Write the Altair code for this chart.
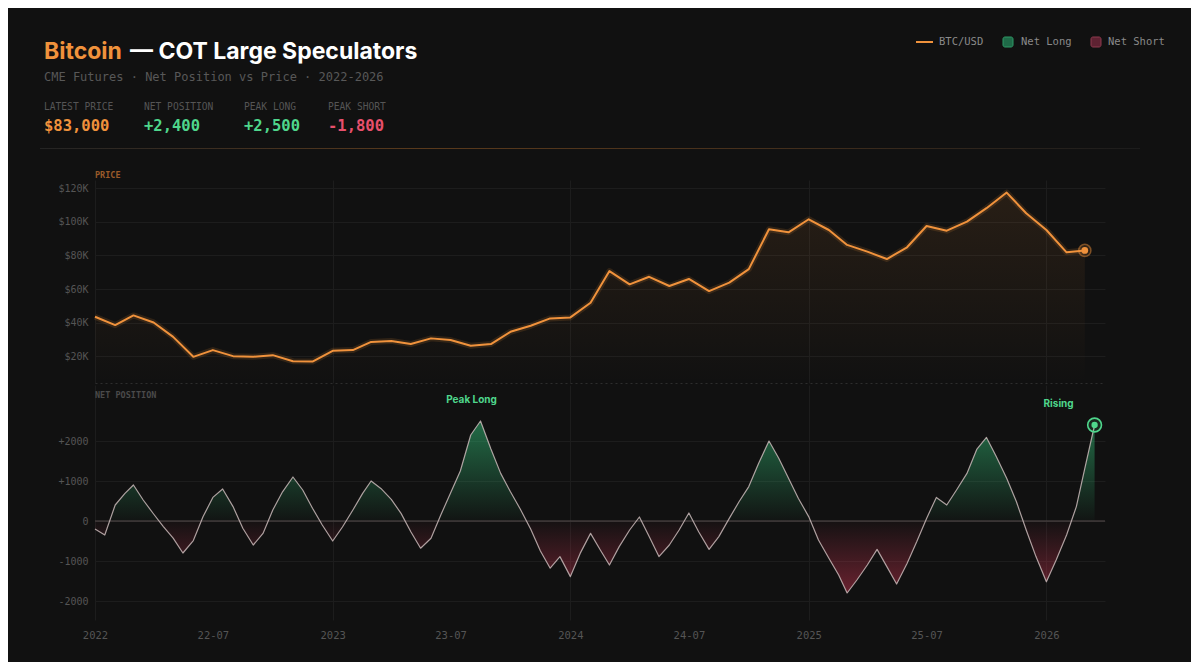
import altair as alt
import pandas as pd

# ---------------- data ----------------
price = [43500, 38500, 44300, 40100, 31500, 19600, 23600, 20000, 19600, 20600, 17000, 16800,
         23200, 23600, 28500, 29100, 27200, 30600, 29600, 26200, 27200, 34500, 38100, 42500,
         43100, 51800, 70700, 62800, 67300, 61800, 66000, 58800, 63800, 71900, 95600, 93800,
         101600, 95200, 86300, 82300, 77900, 84900, 97600, 94800, 100200, 108200, 117500, 105200,
         95200, 81900, 83000]
price_dates = [f"{2022 + i // 12}-{i % 12 + 1:02d}-01" for i in range(len(price))]

net = [-200, -350, 400, 690, 900, 525, 175, -140, -430, -800, -490, 110, 590, 800, 360, -180,
       -600, -310, 275, 730, 1100, 775, 320, -100, -500, -150,
       275, 690, 1000, 815, 540, 190, -270, -680, -430, 150, 700, 1250, 2150, 2500, 1800, 1190,
       730, 300, -200, -750, -1180, -890, -1390, -810, -310,
       -725, -1100, -640, -225, 100, -390, -890, -600, -225, 200, -270, -710, -390, 65, 480, 860,
       1440, 2000, 1570, 1070, 570, 110, -475, -930, -1350, -1800,
       -1475, -1100, -710, -1140, -1575, -1060, -515, 65, 590, 400, 775, 1190, 1790, 2090, 1610,
       1070, 480, -225, -890, -1520, -975, -350, 360, 1315, 2400]
net_dates = [f"{2022 + (j // 2) // 12}-{(j // 2) % 12 + 1:02d}-{'01' if j % 2 == 0 else '16'}"
             for j in range(len(net))]

price_ticks = [20000, 40000, 60000, 80000, 100000, 120000]
net_ticks = [-2000, -1000, 0, 1000, 2000]
x_tick_years = [2022, 2023, 2024, 2025, 2026]

price_df = pd.DataFrame({"date": price_dates, "price": price})
net_df = pd.DataFrame({"date": net_dates, "net": net})

latest_price = price[-1]
net_now = net[-1]
peak_long = max(net)
peak_short = min(net)
peak_df = net_df[net_df["net"] == peak_long].head(1)
last_net_df = net_df.tail(1)
last_price_df = price_df.tail(1)

# ---------------- styles ----------------
BG = "#111111"
MONO = "DejaVu Sans Mono"
SANS = "Inter"
ORANGE = "#f0923c"
GREEN = "#4fd68c"
RED = "#e8506c"
GRID = "#1d1d1d"
LABEL = "#555555"

W = 1010
H_PRICE = 203
H_NET = 235

x_domain = [alt.DateTime(year=2022, month=1, date=1, utc=True),
            alt.DateTime(year=2026, month=4, date=1, utc=True)]
x_scale = alt.Scale(type="utc", domain=x_domain, nice=False)

half_years = [alt.DateTime(year=y, month=m, date=1, utc=True)
              for y in x_tick_years for m in (1, 7) if not (y == 2026 and m == 7)]
years = [alt.DateTime(year=y, month=1, date=1, utc=True) for y in x_tick_years]

one = alt.Data(values=[{}])


def label(text, x, y, size, color, font=MONO, weight="normal", align="left", baseline="middle"):
    return alt.Chart(one).mark_text(
        text=text, font=font, fontSize=size, fontWeight=weight, color=color,
        align=align, baseline=baseline
    ).encode(x=alt.value(x), y=alt.value(y))


# ---------------- price panel ----------------
price_x = alt.X("date:T", scale=x_scale, title=None,
                axis=alt.Axis(values=years, labels=False, ticks=False, domain=True,
                              domainDash=[2, 3], domainColor="#2e2e2e", gridColor=GRID))
price_y = alt.Y("price:Q", scale=alt.Scale(domain=[4000, 125000], nice=False, zero=False),
                title=None,
                axis=alt.Axis(values=price_ticks, labelExpr="'$' + (datum.value / 1000) + 'K'",
                              gridColor=GRID, labelPadding=7))

price_base = alt.Chart(price_df).encode(x=price_x, y=price_y)

price_area = price_base.mark_area(
    color=alt.Gradient(gradient="linear", x1=0, x2=0, y1=0, y2=1,
                       stops=[alt.GradientStop(offset=0, color="rgba(240,146,60,0.10)"),
                              alt.GradientStop(offset=1, color="rgba(240,146,60,0.0)")])
).encode(y2=alt.datum(4000))
price_glow = price_base.mark_line(color=ORANGE, strokeWidth=6, opacity=0.14, strokeJoin="round")
price_line = price_base.mark_line(color=ORANGE, strokeWidth=2, strokeJoin="round")
price_ring = alt.Chart(last_price_df).mark_point(
    shape="circle", size=150, stroke=ORANGE, strokeWidth=1.5, strokeOpacity=0.45,
    fill=ORANGE, fillOpacity=0.15).encode(x=price_x, y=price_y)
price_dot = alt.Chart(last_price_df).mark_circle(size=45, color=ORANGE, opacity=1).encode(
    x=price_x, y=price_y)

# header & legend (pixel positions relative to price plot origin)
ox, oy = 95, 180
header = [
    label("Bitcoin", 44 - ox, 59 - oy, 23, ORANGE, font=SANS, weight="bold", baseline="alphabetic"),
    label("— COT Large Speculators", 130 - ox, 59 - oy, 23, "#ffffff", font=SANS, weight="bold",
          baseline="alphabetic"),
    label("CME Futures · Net Position vs Price · 2022-2026", 44 - ox, 77 - oy, 12, "#585858"),
    label("LATEST PRICE", 44 - ox, 107 - oy, 9.6, LABEL),
    label("NET POSITION", 144 - ox, 107 - oy, 9.6, LABEL),
    label("PEAK LONG", 244 - ox, 107 - oy, 9.6, LABEL),
    label("PEAK SHORT", 328 - ox, 107 - oy, 9.6, LABEL),
    label(f"${latest_price:,}", 44 - ox, 126 - oy, 15.5, ORANGE, weight="bold"),
    label(f"{net_now:+,}", 144 - ox, 126 - oy, 15.5, GREEN, weight="bold"),
    label(f"{peak_long:+,}", 244 - ox, 126 - oy, 15.5, GREEN, weight="bold"),
    label(f"{peak_short:+,}", 328 - ox, 126 - oy, 15.5, RED, weight="bold"),
    label("PRICE", 95 - ox, 175 - oy, 8.5, "#9a5a2a", weight="bold"),
    label("BTC/USD", 939 - ox, 42 - oy, 10.5, "#8a8a8a"),
    label("Net Long", 1021 - ox, 42 - oy, 10.5, "#8a8a8a"),
    label("Net Short", 1108 - ox, 42 - oy, 10.5, "#8a8a8a"),
]
legend_line = alt.Chart(one).mark_rule(color=ORANGE, strokeWidth=2).encode(
    x=alt.value(916 - ox), x2=alt.value(933 - ox), y=alt.value(42 - oy))
legend_long = alt.Chart(one).mark_rect(fill="#1f6a48", stroke="#2f9a66", strokeWidth=1,
                                       cornerRadius=2).encode(
    x=alt.value(1003 - ox), x2=alt.value(1013 - ox), y=alt.value(37 - oy), y2=alt.value(47 - oy))
legend_short = alt.Chart(one).mark_rect(fill="#5e2232", stroke="#8e3a4e", strokeWidth=1,
                                        cornerRadius=2).encode(
    x=alt.value(1091 - ox), x2=alt.value(1101 - ox), y=alt.value(37 - oy), y2=alt.value(47 - oy))
separator = alt.Chart(one).mark_rect(
    fill=alt.Gradient(gradient="linear", x1=0, x2=1, y1=0, y2=0,
                      stops=[alt.GradientStop(offset=0, color="#242424"),
                             alt.GradientStop(offset=0.35, color="#5a3a1c"),
                             alt.GradientStop(offset=0.65, color="#46301c"),
                             alt.GradientStop(offset=1, color="#1c1c1c")])
).encode(x=alt.value(40 - ox), x2=alt.value(1140 - ox), y=alt.value(148 - oy), y2=alt.value(149 - oy))
bounds_rect = alt.Chart(one).mark_rect(opacity=0).encode(
    x=alt.value(8 - ox), x2=alt.value(1191 - ox), y=alt.value(8 - oy), y2=alt.value(662 - oy))

price_chart = alt.layer(
    bounds_rect, price_area, price_glow, price_line, price_ring, price_dot,
    separator, legend_line, legend_long, legend_short, *header
).properties(width=W, height=H_PRICE)

# ---------------- net position panel ----------------
net_x = alt.X("date:T", scale=x_scale, title=None,
              axis=alt.Axis(values=half_years,
                            labelExpr="utcmonth(datum.value) == 0 ? utcFormat(datum.value, '%Y') : utcFormat(datum.value, '%y-%m')",
                            labelPadding=10, labelFontSize=10.5, labelFlush=False,
                            gridColor={"condition": {"test": "utcmonth(datum.value) == 0", "value": GRID},
                                       "value": "rgba(0,0,0,0)"}))
net_y = alt.Y("net:Q", scale=alt.Scale(domain=[-2475, 3400], nice=False, zero=False), title=None,
              axis=alt.Axis(values=net_ticks,
                            labelExpr="datum.value > 0 ? '+' + datum.value : '' + datum.value",
                            gridColor=GRID, labelPadding=7))

zero_off = peak_long / (peak_long - peak_short)
net_base = alt.Chart(net_df).encode(x=net_x, y=net_y)
net_area = net_base.mark_area(
    color=alt.Gradient(gradient="linear", x1=0, x2=0, y1=0, y2=1,
                       stops=[alt.GradientStop(offset=0, color="rgba(52,200,125,0.50)"),
                              alt.GradientStop(offset=zero_off, color="rgba(52,200,125,0.02)"),
                              alt.GradientStop(offset=zero_off, color="rgba(215,55,85,0.02)"),
                              alt.GradientStop(offset=1, color="rgba(215,55,85,0.45)")])
).encode(y2=alt.datum(0))
zero_rule = alt.Chart(one).mark_rule(color="#564c4c", strokeWidth=1).encode(y=alt.datum(0))
net_line = net_base.mark_line(color="#c9b8b8", strokeWidth=1.2, opacity=0.85, strokeJoin="round")
net_ring = alt.Chart(last_net_df).mark_point(
    shape="circle", size=190, stroke=GREEN, strokeWidth=1.6, fill=GREEN, fillOpacity=0.12
).encode(x=net_x, y=net_y)
net_dot = alt.Chart(last_net_df).mark_circle(size=40, color=GREEN, opacity=1).encode(x=net_x, y=net_y)
peak_text = alt.Chart(peak_df).mark_text(
    text="Peak Long", font=SANS, fontSize=10, fontWeight="bold", color=GREEN, dx=-9, dy=-21
).encode(x=net_x, y=net_y)
rising_text = alt.Chart(last_net_df).mark_text(
    text="Rising", font=SANS, fontSize=10, fontWeight="bold", color=GREEN, dx=-36, dy=-21
).encode(x=net_x, y=net_y)
net_label = label("NET POSITION", 0, 10, 8.5, "#4a4a4a", weight="bold")

net_chart = alt.layer(
    net_area, zero_rule, net_line, net_ring, net_dot, peak_text, rising_text, net_label
).properties(width=W, height=H_NET)

chart = alt.vconcat(price_chart, net_chart, spacing=2, bounds="flush").resolve_scale(
    x="independent", y="independent"
).properties(
    padding=0, background=BG
).configure_view(
    strokeWidth=0
).configure_axis(
    labelFont=MONO, labelFontSize=10, labelColor=LABEL, domain=False, ticks=False, title=None,
    gridWidth=1
)

chart.save("out.html", embed_options={"renderer": "svg", "actions": False})
